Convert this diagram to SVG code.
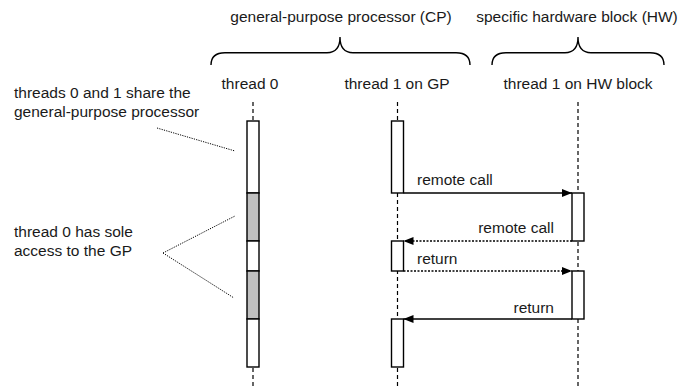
<svg xmlns="http://www.w3.org/2000/svg" width="693" height="389" viewBox="0 0 693 389">
  <defs>
    <marker id="arrow" viewBox="0 0 10 8" refX="10" refY="4" markerWidth="10" markerHeight="8" markerUnits="userSpaceOnUse" orient="auto">
      <path d="M0,0 L10,4 L0,8 Z" fill="#000"/>
    </marker>
  </defs>
  <style>
    text { font-family: "Liberation Sans", Arial, sans-serif; font-size: 15.5px; fill: #1a1a1a; }
    .mid { text-anchor: middle; }
    .end { text-anchor: end; }
    .brace { fill: none; stroke: #000; stroke-width: 1.4; }
    .life { stroke: #000; stroke-width: 1.2; stroke-dasharray: 4 3; fill: none; }
    .act { fill: #fff; stroke: #000; stroke-width: 1.4; }
    .busy { fill: #c0c0c0; stroke: #000; stroke-width: 1.4; }
    .msg { stroke: #000; stroke-width: 1.4; fill: none; marker-end: url(#arrow); }
    .dotted { stroke-dasharray: 2 1.5; }
    .note { stroke: #000; stroke-width: 1; stroke-dasharray: 1.2 1.2; fill: none; }
  </style>

  <rect width="693" height="389" fill="#fff"/>

  <!-- group headings with braces -->
  <g id="cp-heading">
    <text x="341" y="22" class="mid">general-purpose processor (CP)</text>
    <path class="brace" d="M211,65 Q211,52.7 225,52.7 L327,52.7 Q340,52.7 340,37 Q340,52.7 353,52.7 L456,52.7 Q470,52.7 470,65"/>
  </g>
  <g id="hw-heading">
    <text x="577" y="22" class="mid">specific hardware block (HW)</text>
    <path class="brace" d="M492,65 Q492,52.7 506,52.7 L565,52.7 Q578,52.7 578,37 Q578,52.7 591,52.7 L650,52.7 Q664,52.7 664,65"/>
  </g>

  <!-- thread 0 lifeline -->
  <g id="thread0">
    <text x="250" y="89" class="mid">thread 0</text>
    <line class="life" x1="253" y1="102" x2="253" y2="386"/>
    <rect class="act" x="247" y="121" width="12" height="72"/>
    <rect class="busy" x="247" y="193" width="12" height="48"/>
    <rect class="act" x="247" y="241" width="12" height="30"/>
    <rect class="busy" x="247" y="271" width="12" height="48"/>
    <rect class="act" x="247" y="319" width="12" height="48"/>
  </g>

  <!-- thread 1 on the general-purpose processor -->
  <g id="thread1-gp">
    <text x="397" y="89" class="mid">thread 1 on GP</text>
    <line class="life" x1="397.5" y1="102" x2="397.5" y2="386"/>
    <rect class="act" x="391.5" y="121" width="12" height="72"/>
    <rect class="act" x="391.5" y="241" width="12" height="30"/>
    <rect class="act" x="391.5" y="319" width="12" height="48"/>
  </g>

  <!-- thread 1 on the hardware block -->
  <g id="thread1-hw">
    <text x="578" y="89" class="mid">thread 1 on HW block</text>
    <line class="life" x1="578" y1="102" x2="578" y2="386"/>
    <rect class="act" x="572" y="193" width="12" height="48"/>
    <rect class="act" x="572" y="271" width="12" height="48"/>
  </g>

  <!-- side notes -->
  <g id="note-share">
    <text x="14" y="98">threads 0 and 1 share the</text>
    <text x="14" y="117">general-purpose processor</text>
  </g>
  <g id="note-sole">
    <text x="14" y="237">thread 0 has sole</text>
    <text x="14" y="256">access to the GP</text>
  </g>

  <!-- connectors -->
  <g id="connectors">
    <line class="note" x1="157" y1="128" x2="235" y2="151"/>
    <line class="note" x1="163" y1="253" x2="235" y2="216"/>
    <line class="note" x1="163" y1="253" x2="234" y2="298"/>

    <line class="msg" x1="403.5" y1="193" x2="572" y2="193"/>
    <text x="417" y="185">remote call</text>

    <line class="msg dotted" x1="572" y1="241" x2="403.5" y2="241"/>
    <text x="554" y="233" class="end">remote call</text>

    <line class="msg dotted" x1="403.5" y1="271" x2="572" y2="271"/>
    <text x="417" y="264">return</text>

    <line class="msg" x1="572" y1="319" x2="403.5" y2="319"/>
    <text x="554" y="313" class="end">return</text>
  </g>
</svg>
